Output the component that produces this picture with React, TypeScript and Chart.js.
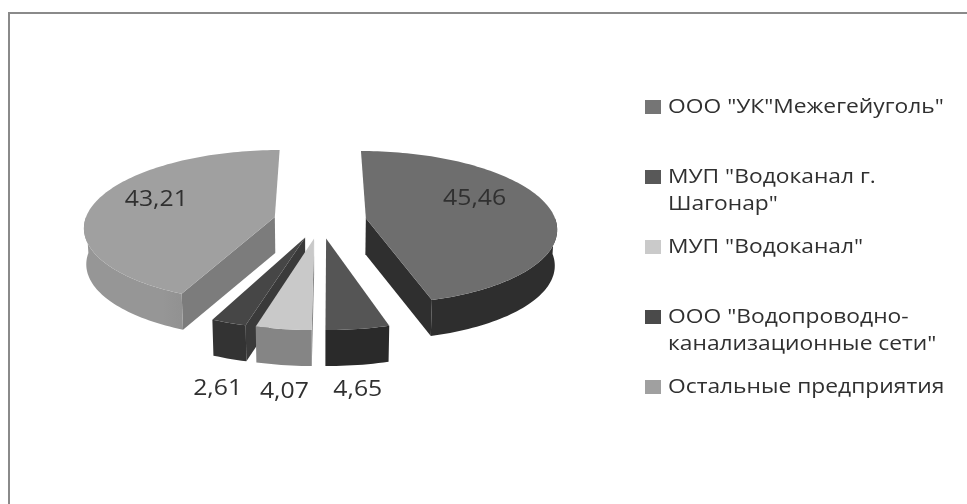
import React, { useEffect, useRef } from "react";
import { Chart, registerables } from "chart.js";

Chart.register(...registerables);

const categories: (string | string[])[] = [
  'ООО "УК"Межегейуголь"',
  ['МУП "Водоканал г.', 'Шагонар"'],
  'МУП "Водоканал"',
  ['ООО "Водопроводно-', 'канализационные сети"'],
  "Остальные предприятия",
];
const values = [45.46, 4.65, 4.07, 2.61, 43.21];
const valueLabels = ["45,46", "4,65", "4,07", "2,61", "43,21"];

const topColors = ["#6e6e6e", "#555555", "#c9c9c9", "#464646", "#a0a0a0"];
const wallColors = ["#2e2e2e", "#2a2a2a", "#858585", "#333333", "#969696"];
const cutColors = ["#2f2f2f", "#2a2a2a", "#858585", "#3a3a3a", "#7c7c7c"];
const legendColors = ["#757575", "#585858", "#cacaca", "#4a4a4a", "#a0a0a0"];
const explode = [48.2, 44.5, 44.5, 44.5, 48.2];

// style tables for the pseudo-3D drawing
const labelRadius = [0.6, 1, 1, 1, 0.64];
const labelShift = [[-2, -13], [0, 61], [1, 63], [-11, 66], [-3, -7]];
const legendRows = [107, 177, 247, 317, 387];
const VIEW_R = 190, TILT = 0.4, PERSP = 0.12, DEPTH = 36, CX = 320, CY = 221;
const FONT = '"Open Sans", sans-serif';

function project(x: number, y: number, down = 0) {
  const s = 1 / (1 - PERSP * y / VIEW_R);
  const b = down ? 0.99 : 1;
  return [CX + x * s * b, CY + TILT * y * s + down];
}

const pie3d = {
  id: "pie3d",
  beforeDatasetsDraw(chart: any) {
    const ctx = chart.ctx as CanvasRenderingContext2D;
    // frame
    ctx.save();
    ctx.strokeStyle = "#8a8a8a";
    ctx.lineWidth = 2;
    ctx.beginPath();
    ctx.moveTo(9, 504);
    ctx.lineTo(9, 13);
    ctx.lineTo(967, 13);
    ctx.stroke();
    ctx.restore();

    const arcs = chart.getDatasetMeta(0).data as any[];
    const geo = arcs.map((a, i) => {
      const p = a.getProps(["startAngle", "endAngle", "outerRadius", "x", "y"], true);
      const f = VIEW_R / p.outerRadius;
      const mid = (p.startAngle + p.endAngle) / 2;
      const off = a.options.offset * f;
      return {
        i, start: p.startAngle, end: p.endAngle, mid,
        ox: Math.cos(mid) * off,
        oy: Math.sin(mid) * off,
      };
    });

    const pt = (g: any, r: number, ang: number, down = 0) =>
      project(g.ox + r * Math.cos(ang), g.oy + r * Math.sin(ang), down);

    const poly = (pts: number[][], fill: string | CanvasGradient) => {
      ctx.beginPath();
      pts.forEach((p, k) => (k ? ctx.lineTo(p[0], p[1]) : ctx.moveTo(p[0], p[1])));
      ctx.closePath();
      ctx.fillStyle = fill;
      ctx.fill();
    };
    const arcPts = (g: any, down = 0) => {
      const n = Math.max(4, Math.ceil((g.end - g.start) * 40));
      const out: number[][] = [];
      for (let k = 0; k <= n; k++) out.push(pt(g, VIEW_R, g.start + ((g.end - g.start) * k) / n, down));
      return out;
    };

    const order = [...geo].sort((a, b) => a.oy + Math.sin(a.mid) * 60 - (b.oy + Math.sin(b.mid) * 60));
    for (const g of order) {
      const apex = pt(g, 0, 0), apexD = pt(g, 0, 0, DEPTH);
      const top = arcPts(g), bot = arcPts(g, DEPTH);
      const first = top[0], last = top[top.length - 1];
      // cut faces, only when they face the viewer
      const cross = (a: number[], b: number[]) => a[0] * b[1] - a[1] * b[0];
      if (first[1] > apex[1] && cross([first[0] - apex[0], first[1] - apex[1]], [0, 1]) < 0) {
        poly([apex, first, bot[0], apexD], cutColors[g.i]);
      }
      if (last[1] > apex[1] && cross([last[0] - apex[0], last[1] - apex[1]], [0, 1]) > 0) {
        poly([apex, last, bot[bot.length - 1], apexD], cutColors[g.i]);
      }
      // outer wall, front half only
      const frontTop = top.filter((p, k) => p[1] >= Math.min(...top.map((q) => q[1])));
      const xs = frontTop.map((p) => p[0]);
      const grad = ctx.createLinearGradient(Math.min(...xs), 0, Math.max(...xs), 0);
      grad.addColorStop(0, wallColors[g.i]);
      grad.addColorStop(0.4, wallColors[g.i]);
      grad.addColorStop(1, g.i === 4 ? "#7c7c7c" : wallColors[g.i]);
      const a0 = (ang: number) => Math.sin(ang) >= -0.02;
      const n = top.length - 1;
      const tf: number[][] = [], bf: number[][] = [];
      top.forEach((p, k) => {
        if (a0(g.start + ((g.end - g.start) * k) / n)) {
          tf.push(p);
          bf.push(bot[k]);
        }
      });
      if (tf.length) poly([...tf, ...bf.slice().reverse()], grad);
      // top face
      poly([apex, ...top], topColors[g.i]);
    }

    // value labels
    ctx.save();
    ctx.fillStyle = "#303030";
    ctx.font = `21px ${FONT}`;
    ctx.textAlign = "center";
    ctx.textBaseline = "middle";
    geo.forEach((g) => {
      const p = pt(g, VIEW_R * labelRadius[g.i], g.mid);
      ctx.save();
      ctx.translate(p[0] + labelShift[g.i][0], p[1] + labelShift[g.i][1]);
      ctx.scale(1.18, 1);
      ctx.fillText(valueLabels[g.i], 0, 0);
      ctx.restore();
    });
    ctx.restore();

    // legend
    ctx.save();
    ctx.font = `20px ${FONT}`;
    ctx.textBaseline = "middle";
    (chart.data.labels as (string | string[])[]).forEach((lab, i) => {
      ctx.fillStyle = legendColors[i];
      ctx.fillRect(645, legendRows[i] - 7, 16, 14);
      ctx.fillStyle = "#303030";
      (Array.isArray(lab) ? lab : [lab]).forEach((line, k) => {
        ctx.save();
        ctx.translate(668, legendRows[i] + k * 27);
        ctx.scale(1.14, 1);
        ctx.fillText(line, 0, 0);
        ctx.restore();
      });
    });
    ctx.restore();
    return false;
  },
};

export default function App() {
  const ref = useRef<HTMLCanvasElement>(null);
  useEffect(() => {
    const chart = new Chart(ref.current!, {
      type: "pie",
      data: {
        labels: categories as any,
        datasets: [{ data: values, backgroundColor: topColors, borderWidth: 0, offset: explode }],
      },
      options: {
        animation: false,
        responsive: false,
        rotation: 0,
        layout: { padding: { left: 0, right: 327, top: 0, bottom: 62 } },
        plugins: { legend: { display: false }, tooltip: { enabled: false } },
      },
      plugins: [pie3d],
    } as any);
    return () => chart.destroy();
  }, []);
  return (
    <canvas
      ref={ref}
      width={967}
      height={504}
      style={{ position: "fixed", left: 0, top: 0, width: 967, height: 504, background: "#fff", filter: "blur(0.5px)" }}
    />
  );
}
